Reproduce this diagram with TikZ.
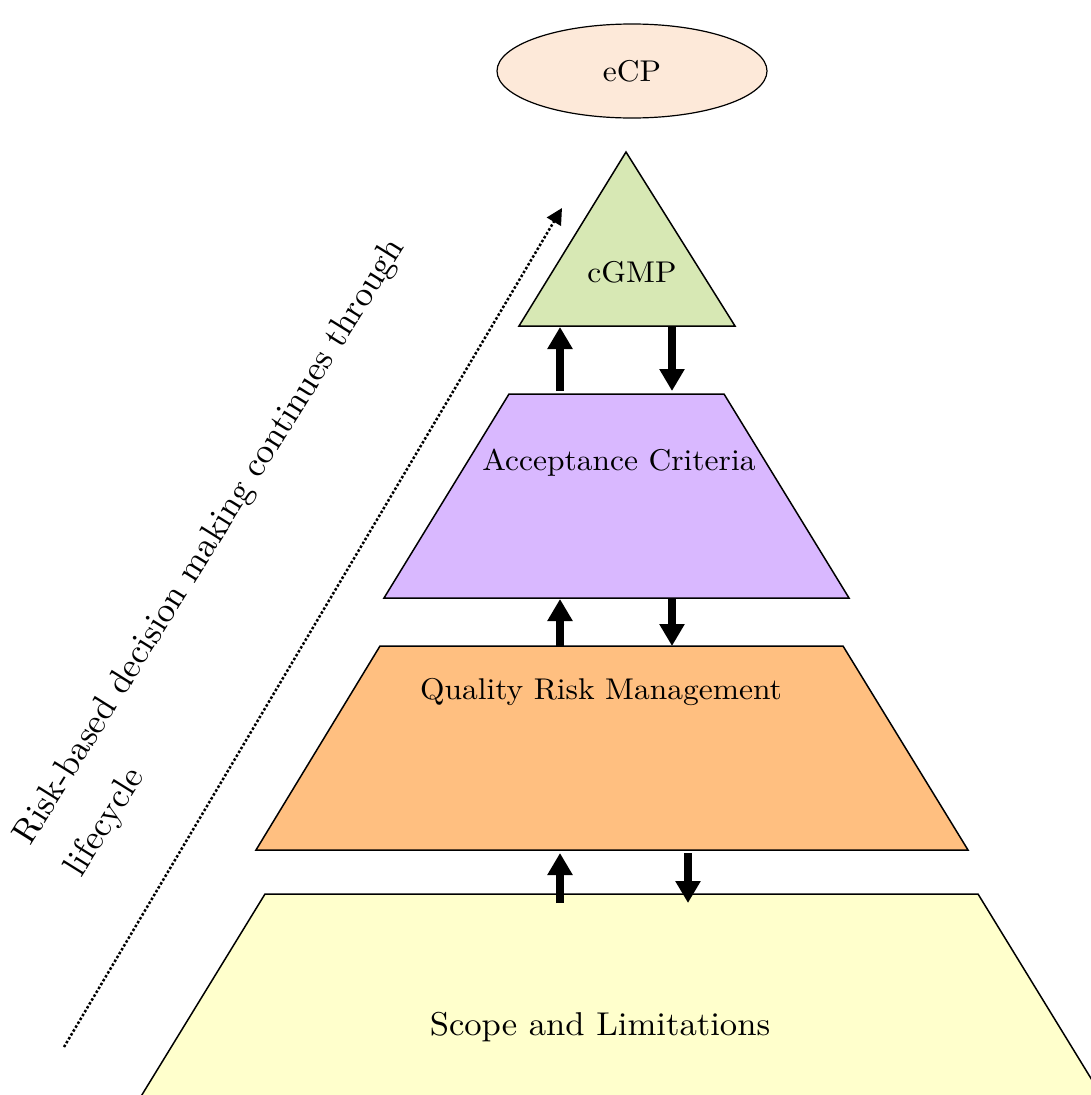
\documentclass[tikz,border=0pt]{standalone}
\usepackage{fontspec}
\newfontfamily\wideserif{lmroman10-regular.otf}[FakeStretch=1.05]
\newfontfamily\sideserif{lmroman10-regular.otf}
\usetikzlibrary{arrows.meta,shapes.geometric}
\definecolor{peach}{HTML}{FDE9D9}
\definecolor{leaf}{HTML}{D7E8B4}
\definecolor{lilac}{HTML}{D9B8FF}
\definecolor{apricot}{HTML}{FFBF80}
\definecolor{cream}{HTML}{FFFFCC}
\tikzset{
  layer/.style={draw=black, line width=1.5pt, line join=miter},
  label/.style={font=\wideserif\fontsize{30}{36}\selectfont, inner sep=0pt},
  flow/.style={line width=8pt, -{Triangle[length=22pt,width=24pt]}},
  trend/.style={line width=2.5pt, dotted, -{Triangle[length=16pt,width=16pt]}}
}
\begin{document}
\begin{tikzpicture}[x=1pt,y=-1pt]
\clip (0,0) rectangle (1091,1095);
\fill[white] (0,0) rectangle (1091,1095);

% top goal
\node[ellipse, draw, line width=1.2pt, fill=peach, minimum width=270pt, minimum height=94pt] (ecp) at (632,71) {};
\node[label] (ecptext) at (632,71) {eCP};

% pyramid layers, top to bottom
\path[layer, fill=leaf] (626,152) -- (735,326) -- (519,326) -- cycle;
\node[label] (cgmp) at (632,272) {cGMP};

\path[layer, fill=lilac] (509,394) -- (724,394) -- (849,598) -- (384,598) -- cycle;
\node[label] (accept) at (619,463) {Acceptance Criteria};

\path[layer, fill=apricot] (380,646) -- (843,646) -- (968,850) -- (256,850) -- cycle;
\node[label] (qrm) at (601,692) {Quality Risk Management};

\path[layer, fill=cream] (265,894) -- (978,894) -- (1103,1098) -- (140,1098) -- cycle;
\node[label, font=\wideserif\fontsize{33}{40}\selectfont] (scope) at (600,1027) {Scope and Limitations};

% exchange between layers
\coordinate (u1s) at (560,391); \coordinate (u1e) at (560,327);
\coordinate (d1s) at (672,327); \coordinate (d1e) at (672,391);
\coordinate (u2s) at (560,646); \coordinate (u2e) at (560,599);
\coordinate (d2s) at (672,599); \coordinate (d2e) at (672,646);
\coordinate (u3s) at (560,903); \coordinate (u3e) at (560,853);
\coordinate (d3s) at (688,853); \coordinate (d3e) at (688,903);
\foreach \a/\b in {u1s/u1e,d1s/d1e,u2s/u2e,d2s/d2e,u3s/u3e,d3s/d3e}
  \draw[flow] (\a) -- (\b);

% lifecycle direction
\coordinate (lc0) at (64,1047);
\coordinate (lc1) at (562,208);
\draw[trend] (lc0) -- (lc1);
\node[rotate=58, align=left, inner sep=0pt,
      font=\sideserif\fontsize{35}{60}\selectfont] (risk) at (236,558)
  {Risk-based decision making continues through\\lifecycle};
\end{tikzpicture}
\end{document}
